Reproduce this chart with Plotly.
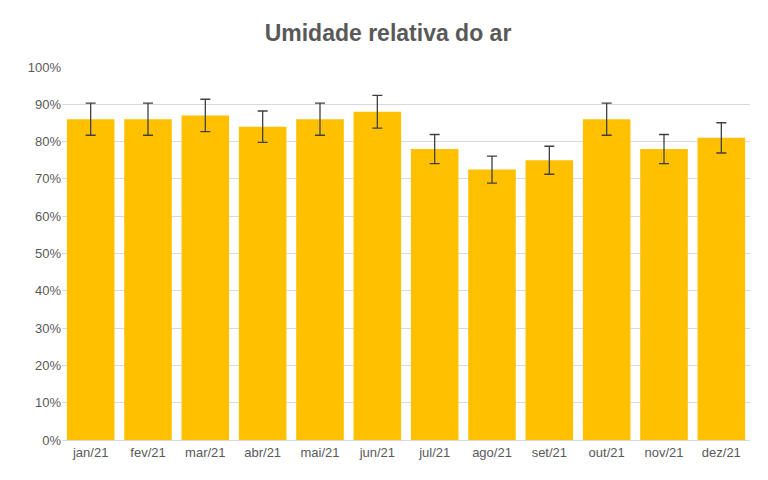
import plotly.graph_objects as go

months = ["jan/21", "fev/21", "mar/21", "abr/21", "mai/21", "jun/21",
          "jul/21", "ago/21", "set/21", "out/21", "nov/21", "dez/21"]
humidity = [0.86, 0.86, 0.87, 0.84, 0.86, 0.88, 0.78, 0.725, 0.75, 0.86, 0.78, 0.81]
y_ticks = [i / 10 for i in range(11)]

fig = go.Figure()
fig.add_trace(go.Bar(
    x=months, y=humidity,
    marker=dict(color="#FFC000", line_width=0),
    error_y=dict(type="percent", value=5, color="#404040", thickness=1.3, width=5),
))

# page body adds an 8px offset, so the figure is a bit smaller than the window
fig.update_layout(
    title=dict(text="<b>Umidade relativa do ar</b>", x=0.5, y=0.947, xanchor="center", yanchor="middle",
               font=dict(family="Liberation Sans", size=23, color="#595959")),
    width=760, height=472,
    margin=dict(l=54, r=18, t=59, b=40),
    paper_bgcolor="white", plot_bgcolor="white",
    bargap=0.17, showlegend=False,
    font=dict(family="Liberation Sans", size=13, color="#595959"),
    xaxis=dict(showline=True, linecolor="#D9D9D9", ticks="", tickfont=dict(size=13)),
    yaxis=dict(range=[0, 1.0], tickvals=y_ticks, tickformat=".0%",
               showgrid=True, gridcolor="#D9D9D9", zeroline=False, ticks=""),
)

fig.write_html("out.html")
